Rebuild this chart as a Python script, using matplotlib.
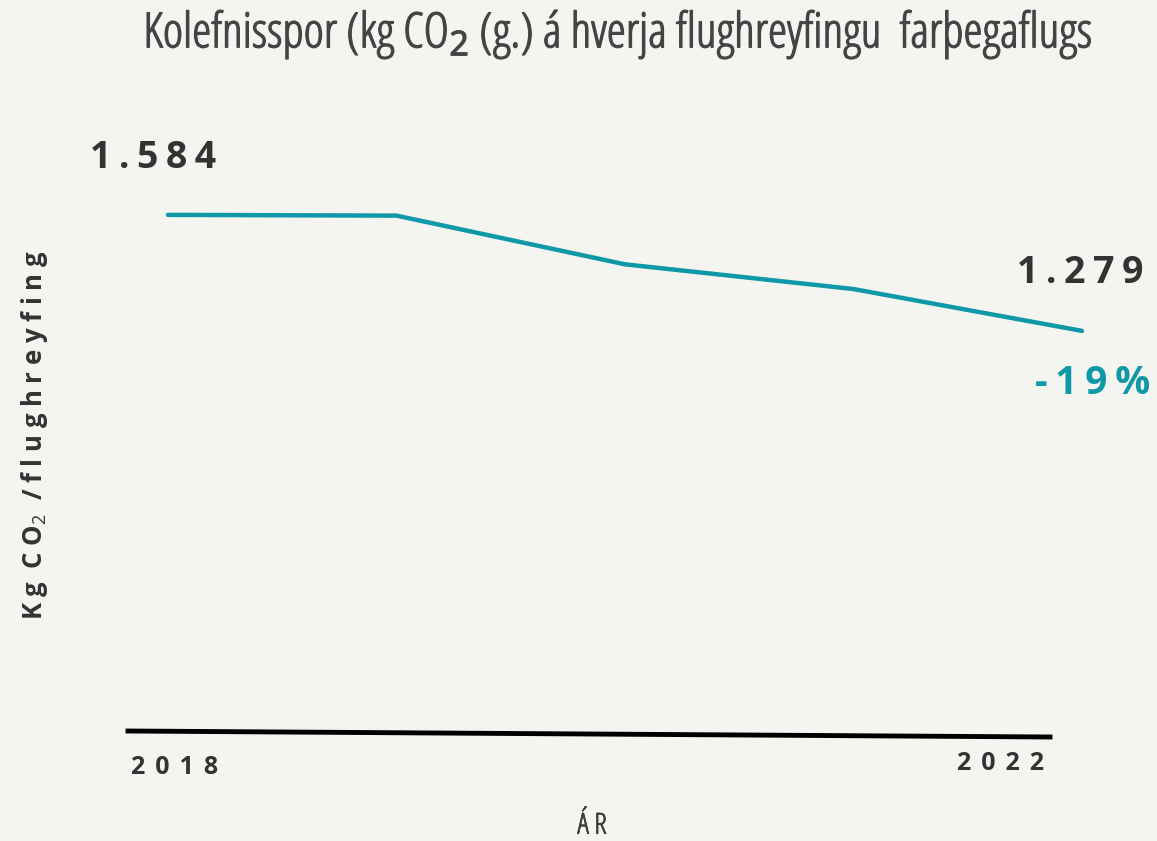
import matplotlib
matplotlib.use("Agg")
import matplotlib.pyplot as plt
import matplotlib.patheffects as pe

years = [2018, 2019, 2020, 2021, 2022]
values = [1584, 1582, 1454, 1389, 1279]
first_label = "1.584"
last_label = "1.279"
change_label = "-19%"
title = "Kolefnisspor (kg CO$_2$ (g.) á hverja flughreyfingu  farþegaflugs"
ylabel = "Kg CO$_2$ /flughreyfing"
xlabel = "Á R"
tick_labels = ["2018", "2022"]

BG = "#f4f4f0"
TEAL = "#0f98a8"
DARK = "#333333"

plt.rcParams['font.family'] = ['Open Sans', 'DejaVu Sans']
plt.rcParams['mathtext.fontset'] = 'custom'
plt.rcParams['mathtext.rm'] = 'Open Sans'

W, H = 1157, 841
fig = plt.figure(figsize=(W / 100, H / 100), dpi=100, facecolor=BG)

def fx(px):
    return px / W

def fy(py):
    return 1 - py / H

def spaced(s, sep="\u2009"):
    return sep.join(list(s))

# Axes mapped so that 2018 -> x=168px, 2022 -> x=1082px
ax = fig.add_axes([fx(168), fy(720), fx(1082) - fx(168), fy(100) - fy(720)])
ax.set_facecolor(BG)
ax.set_xlim(2018, 2022)
ax.set_ylim(256, 1886)
ax.plot(years, values, color=TEAL, lw=3.2, solid_capstyle='round', solid_joinstyle='round', clip_on=False)
for s in ax.spines.values():
    s.set_visible(False)
ax.set_xticks([])
ax.set_yticks([])

thicken = [pe.withStroke(linewidth=0.9, foreground='#444444')]

# Title
fig.text(fx(618), fy(34), title, ha='center', va='center', fontsize=35,
         color='#444444', fontstretch='condensed', fontweight='medium',
         path_effects=thicken)

# Value labels
fig.text(fx(90), fy(158), spaced(first_label, "\u2009"), ha='left', va='center',
         fontsize=27, fontweight='bold', color=DARK)
fig.text(fx(1143), fy(273), spaced(last_label, "\u2009"), ha='right', va='center',
         fontsize=27, fontweight='bold', color=DARK)
fig.text(fx(1150), fy(383), spaced(change_label, "\u2009"), ha='right', va='center',
         fontsize=28, fontweight='bold', color=TEAL)

# Y label
fig.text(fx(35), fy(435), "K g  C O$_2$  / f l u g h r e y f i n g", rotation=90,
         ha='center', va='center', fontsize=18.5, fontweight='bold', color=DARK)

# Baseline (decorative axis line)
fig.add_artist(plt.Line2D([fx(128), fx(1050)], [fy(731), fy(737)], color='black', lw=3.5))

# X tick labels
fig.text(fx(131), fy(768), spaced(tick_labels[0], "\u2009\u2009"), ha='left', va='center',
         fontsize=18, fontweight='bold', color=DARK)
fig.text(fx(1044), fy(763), spaced(tick_labels[1], "\u2009\u2009"), ha='right', va='center',
         fontsize=18, fontweight='bold', color=DARK)

# X axis label
fig.text(fx(592), fy(826), xlabel, ha='center', va='center', fontsize=21,
         color='#3a3a3a', fontstretch='condensed', fontweight='medium',
         path_effects=[pe.withStroke(linewidth=0.5, foreground='#3a3a3a')])

fig.savefig("out.png", dpi=100, facecolor=BG)
